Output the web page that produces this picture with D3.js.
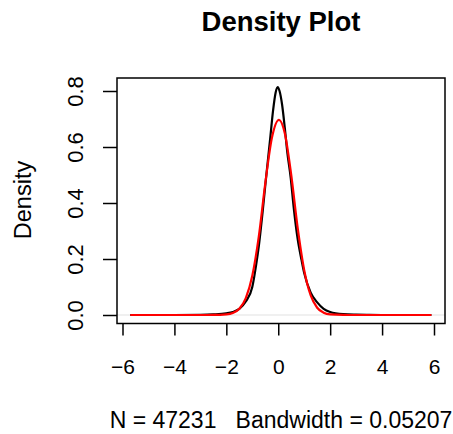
<!DOCTYPE html>
<html lang="en">
	<head>
		<meta charset="utf-8">
		<title>Density Plot</title>
		<script type="text/javascript" src="https://cdn.jsdelivr.net/npm/d3@7"></script>
		<style type="text/css">
			body { margin: 0; background: #fff; }
			text { font-family: "Liberation Sans", Arial, sans-serif; fill: #000; white-space: pre; }
		</style>
	</head>
	<body>
		<script type="text/javascript">
			//Width and height
			var w = 453;
			var h = 434;

			//Data: kernel density (black) and fitted normal (red)
			var densX = [-5.7, -4, -3, -2.5, -2, -1.75, -1.5, -1.25, -1.0, -0.85, -0.75, -0.6, -0.47, -0.3, -0.2, -0.1, -0.02, 0.05, 0.15, 0.25, 0.35, 0.48, 0.6, 0.75, 0.9, 1.0, 1.25, 1.5, 1.75, 2.0, 2.5, 3.0, 3.5, 4.0, 5.9];
			var densY = [0, 0, 0.0005, 0.002, 0.006, 0.011, 0.022, 0.048, 0.10, 0.18, 0.245, 0.37, 0.49, 0.64, 0.73, 0.795, 0.814, 0.80, 0.75, 0.67, 0.58, 0.49, 0.38, 0.27, 0.195, 0.15, 0.08, 0.045, 0.022, 0.011, 0.003, 0.001, 0.0003, 0, 0];
			var normX = [-5.7, -3, -2.5, -2, -1.75, -1.5, -1.25, -1.0, -0.75, -0.5, -0.25, 0.03, 0.25, 0.5, 0.75, 1.0, 1.25, 1.5, 1.75, 2.0, 2.5, 3.0, 5.9];
			var normY = [0, 0, 0.0001, 0.002, 0.007, 0.022, 0.06, 0.14, 0.28, 0.47, 0.63, 0.697, 0.65, 0.50, 0.31, 0.16, 0.07, 0.026, 0.008, 0.002, 0.0002, 0, 0];

			var xTicks = [-6, -4, -2, 0, 2, 4, 6];
			var yTicks = [0, 0.2, 0.4, 0.6, 0.8];

			var titleText = "Density Plot";
			var yLabel = "Density";
			var xLabel = "N = 47231   Bandwidth = 0.05207";

			//plot box
			var box = { left: 117, right: 445, top: 78, bottom: 323.5 };

			var x = d3.scaleLinear().domain([-6, 6]).range([122.5, 434]);
			var y = d3.scaleLinear().domain([0, 0.8]).range([315, 91]);

			var svg = d3.select("body")
						.append("svg")
						.attr("width", w)
						.attr("height", h);

			//zero line
			svg.append("line")
			   .attr("x1", box.left).attr("x2", box.right)
			   .attr("y1", y(0)).attr("y2", y(0))
			   .attr("stroke", "#d9d9d9")
			   .attr("stroke-width", 0.8);

			var line = d3.line()
						 .x(function(d) { return x(d[0]); })
						 .y(function(d) { return y(d[1]); })
						 .curve(d3.curveMonotoneX);

			svg.append("path")
			   .attr("d", line(d3.zip(densX, densY)))
			   .attr("fill", "none")
			   .attr("stroke", "#000")
			   .attr("stroke-width", 2.2);

			svg.append("path")
			   .attr("d", line(d3.zip(normX, normY)))
			   .attr("fill", "none")
			   .attr("stroke", "#ff0000")
			   .attr("stroke-width", 2.2);

			//box
			svg.append("rect")
			   .attr("x", box.left).attr("y", box.top)
			   .attr("width", box.right - box.left)
			   .attr("height", box.bottom - box.top)
			   .attr("fill", "none")
			   .attr("stroke", "#000")
			   .attr("stroke-width", 1.5);

			//x axis
			var xAxis = d3.axisBottom(x)
						  .tickValues(xTicks)
						  .tickSize(12)
						  .tickPadding(24)
						  .tickFormat(function(d) { return d < 0 ? "\u2212" + Math.abs(d) : d; });
			var gx = svg.append("g")
						.attr("transform", "translate(0," + box.bottom + ")")
						.call(xAxis);
			gx.select(".domain").remove();
			gx.selectAll("line").attr("stroke-width", 1.5);
			gx.selectAll("text")
			  .attr("font-size", 21)
			  .attr("font-family", "Liberation Sans, Arial, sans-serif");

			//y axis
			var yAxis = d3.axisLeft(y)
						  .tickValues(yTicks)
						  .tickSize(14)
						  .tickFormat(d3.format(".1f"));
			var gy = svg.append("g")
						.attr("transform", "translate(" + box.left + ",0)")
						.call(yAxis);
			gy.select(".domain").remove();
			gy.selectAll("line").attr("stroke-width", 1.5);
			gy.selectAll("text")
			  .attr("font-size", 22)
			  .attr("font-family", "Liberation Sans, Arial, sans-serif")
			  .attr("x", null).attr("dy", null)
			  .attr("text-anchor", "middle")
			  .attr("transform", "translate(-34,0) rotate(-90)");

			//title and labels
			svg.append("text")
			   .attr("x", 281).attr("y", 31)
			   .attr("text-anchor", "middle")
			   .attr("font-size", 27.5)
			   .attr("font-weight", "bold")
			   .text(titleText);

			svg.append("text")
			   .attr("transform", "translate(30.5,200) rotate(-90)")
			   .attr("text-anchor", "middle")
			   .attr("font-size", 23.5)
			   .text(yLabel);

			svg.append("text")
			   .attr("x", 281).attr("y", 428)
			   .attr("text-anchor", "middle")
			   .attr("font-size", 23)
			   .text(xLabel);
		</script>
	</body>
</html>
